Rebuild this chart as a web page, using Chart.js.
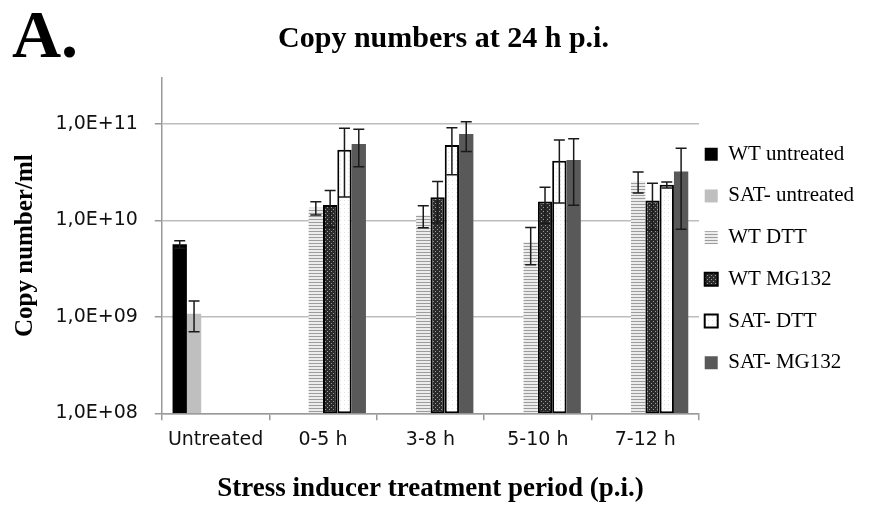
<!DOCTYPE html>
<html>
<head>
<meta charset="utf-8">
<script src="https://cdn.jsdelivr.net/npm/chart.js@4"></script>
<style>
    body {margin: 0; background: #fff;}
    #wrap {position: relative; width: 873px; height: 505px;}
    #panelLetter {position: absolute; left: 12px; top: 0px; font: bold 68px/68px 'Liberation Serif', 'Times New Roman', serif; color: #000;}
</style>
</head>
<body>
<div id="wrap">
    <canvas id="copyChart" width="873" height="505"></canvas>
    <div id="panelLetter">A.</div>
</div>
<script>
/* ------------copy numbers at 24 h p.i., log scale bar chart----------------- */

const categories = ["Untreated", "0-5 h", "3-8 h", "5-10 h", "7-12 h"];

const wtUntreated  = [5.65e9, null, null, null, null];
const wtUntreatedErr = [0.5e9, null, null, null, null];
const satUntreated = [1.08e9, null, null, null, null];
const satUntreatedErr = [0.38e9, null, null, null, null];
const wtDTT    = [null, 1.35e10, 1.13e10, 5.97e9, 2.55e10];
const wtDTTErr = [null, 0.21e10, 0.29e10, 2.5e9, 0.62e10];
const wtMG132    = [null, 1.45e10, 1.74e10, 1.57e10, 1.61e10];
const wtMG132Err = [null, 0.6e10, 0.8e10, 0.64e10, 0.82e10];
const satDTT    = [null, 5.4e10, 6.07e10, 4.17e10, 2.34e10];
const satDTTErr = [null, 3.65e10, 3.1e10, 2.65e10, 0.17e10];
const satMG132    = [null, 6.21e10, 7.88e10, 4.24e10, 3.21e10];
const satMG132Err = [null, 2.6e10, 2.7e10, 2.8e10, 2.4e10];

const yTickValues = [1e8, 1e9, 1e10, 1e11];
const yTickLabels = ["1,0E+08", "1,0E+09", "1,0E+10", "1,0E+11"];

const serif = "'Liberation Serif', 'Times New Roman', serif";
const sans = "'DejaVu Sans', sans-serif";

function makePattern(size, paint) {
    //small tile canvas turned into a repeating fill
    const tile = document.createElement("canvas");
    tile.width = size; tile.height = size;
    const g = tile.getContext("2d");
    paint(g);
    return g.createPattern(tile, "repeat");
}

const stripeFill = makePattern(3, g => {
    g.fillStyle = "#ececec"; g.fillRect(0, 0, 3, 3);
    g.fillStyle = "#9c9c9c"; g.fillRect(0, 0, 3, 1);
});
const checkerFill = makePattern(4, g => {
    g.fillStyle = "#2a2a2a"; g.fillRect(0, 0, 4, 4);
    g.fillStyle = "#9a9a9a"; g.fillRect(1, 1, 1, 1); g.fillRect(3, 3, 1, 1);
});
const dotFill = makePattern(4, g => {
    g.fillStyle = "#ffffff"; g.fillRect(0, 0, 4, 4);
    g.fillStyle = "#e2e2e2"; g.fillRect(0, 0, 1, 1);
});

const errorBars = {
    //draws symmetric error bars from each dataset's "errors" array
    id: "errorBars",
    afterDatasetsDraw(chart) {
        const {ctx} = chart;
        const yScale = chart.scales.y;
        ctx.save();
        ctx.strokeStyle = "#1a1a1a";
        ctx.lineWidth = 1.5;
        chart.data.datasets.forEach((ds, i) => {
            const meta = chart.getDatasetMeta(i);
            meta.data.forEach((bar, j) => {
                const v = ds.data[j], e = ds.errors[j];
                if (v == null || e == null) return;
                const top = yScale.getPixelForValue(v + e);
                const bot = yScale.getPixelForValue(Math.max(v - e, yScale.min));
                const cap = 5.5;
                ctx.beginPath();
                ctx.moveTo(bar.x, top); ctx.lineTo(bar.x, bot);
                ctx.moveTo(bar.x - cap, top); ctx.lineTo(bar.x + cap, top);
                ctx.moveTo(bar.x - cap, bot); ctx.lineTo(bar.x + cap, bot);
                ctx.stroke();
            });
        });
        ctx.restore();
    }
};

const legendShift = {
    //nudge the right legend closer to the plot, as in the original figure
    id: "legendShift",
    afterLayout(chart) {
        const lg = chart.legend;
        lg.left -= 15; lg.right -= 15;
        lg.top += 6; lg.bottom += 6;
    }
};

const barDataset = (label, data, errors, fill, border) => ({
    label: label,
    data: data,
    errors: errors,
    backgroundColor: fill,
    borderColor: "#000",
    borderWidth: border ? 2 : 0,
    borderSkipped: false
});

Chart.defaults.color = "#000";

new Chart(document.getElementById("copyChart"), {
    type: "bar",
    data: {
        labels: categories,
        datasets: [
            barDataset("WT untreated", wtUntreated, wtUntreatedErr, "#000000", false),
            barDataset("SAT- untreated", satUntreated, satUntreatedErr, "#bfbfbf", false),
            barDataset("WT DTT", wtDTT, wtDTTErr, stripeFill, false),
            barDataset("WT MG132", wtMG132, wtMG132Err, checkerFill, true),
            barDataset("SAT- DTT", satDTT, satDTTErr, dotFill, true),
            barDataset("SAT- MG132", satMG132, satMG132Err, "#595959", false)
        ]
    },
    options: {
        responsive: false, animation: false,
        categoryPercentage: 0.8, barPercentage: 1.0,
        layout: {padding: {left: 8, right: -6, top: 0, bottom: 0}},
        scales: {
            x: {
                grid: {drawOnChartArea: false, tickLength: 7, color: "#999", lineWidth: 1.5},
                border: {color: "#999", width: 1.5},
                ticks: {font: {family: sans, size: 19}, padding: 8.6, color: "#111"},
                title: {
                    display: true,
                    text: "Stress inducer treatment period (p.i.)",
                    font: {family: serif, size: 27, weight: "bold"},
                    padding: {top: 12.3, bottom: 0}
                }
            },
            y: {
                type: "logarithmic",
                min: 1e8, max: 3e11,
                afterBuildTicks: scale => { scale.ticks = yTickValues.map(v => ({value: v})); },
                grid: {color: "#bdbdbd", lineWidth: 1.5, tickLength: 7, tickColor: "#999"},
                border: {color: "#999", width: 1.5},
                ticks: {
                    font: {family: sans, size: 19}, padding: 17, color: "#111",
                    callback: (value, index) => yTickLabels[index]
                },
                title: {
                    display: true,
                    text: "Copy number/ml",
                    font: {family: serif, size: 25, weight: "bold", lineHeight: 1},
                    padding: {top: 5.5, bottom: 0}
                }
            }
        },
        plugins: {
            title: {
                display: true,
                text: "Copy numbers at 24 h p.i.",
                font: {family: serif, size: 30, weight: "bold"},
                padding: {top: 21, bottom: 21}
            },
            legend: {
                position: "right",
                labels: {font: {family: serif, size: 21}, boxWidth: 13, boxHeight: 13, padding: 20.7}
            },
            tooltip: {enabled: false}
        }
    },
    plugins: [errorBars, legendShift]
});
</script>
</body>
</html>
